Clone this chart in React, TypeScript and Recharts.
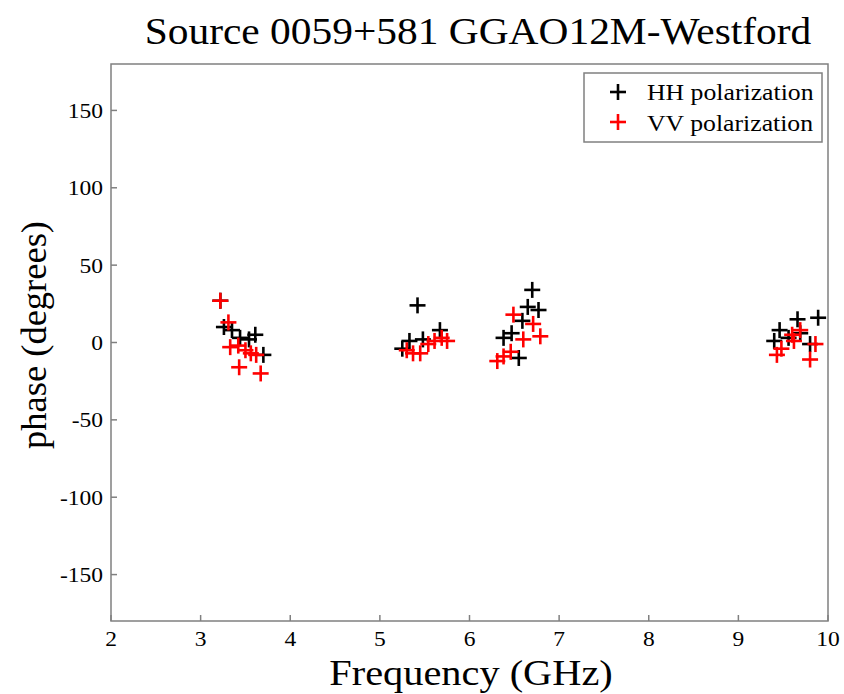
import React from "react";
import { ScatterChart, Scatter, XAxis, YAxis, ReferenceArea } from "recharts";

const hhPoints = [
  { f: 3.22, phase: 27 },
  { f: 3.26, phase: 10 },
  { f: 3.35, phase: 8 },
  { f: 3.44, phase: 3 },
  { f: 3.54, phase: 2 },
  { f: 3.61, phase: 5 },
  { f: 3.7, phase: -8 },
  { f: 5.25, phase: -4 },
  { f: 5.33, phase: 1 },
  { f: 5.42, phase: 24 },
  { f: 5.48, phase: 2 },
  { f: 5.67, phase: 8 },
  { f: 6.38, phase: 3 },
  { f: 6.47, phase: 6 },
  { f: 6.55, phase: -10 },
  { f: 6.59, phase: 14 },
  { f: 6.65, phase: 23 },
  { f: 6.7, phase: 34 },
  { f: 6.77, phase: 21 },
  { f: 9.4, phase: 1 },
  { f: 9.46, phase: 8 },
  { f: 9.56, phase: 3 },
  { f: 9.66, phase: 15 },
  { f: 9.69, phase: 6 },
  { f: 9.8, phase: -1 },
  { f: 9.89, phase: 16 },
];

const vvPoints = [
  { f: 3.22, phase: 27 },
  { f: 3.31, phase: 13 },
  { f: 3.33, phase: -3 },
  { f: 3.42, phase: -2 },
  { f: 3.5, phase: -5 },
  { f: 3.56, phase: -7 },
  { f: 3.62, phase: -8 },
  { f: 3.43, phase: -16 },
  { f: 3.67, phase: -20 },
  { f: 5.3, phase: -5 },
  { f: 5.37, phase: -7 },
  { f: 5.45, phase: -7 },
  { f: 5.54, phase: -1 },
  { f: 5.61, phase: 1 },
  { f: 5.69, phase: 3 },
  { f: 5.75, phase: 1 },
  { f: 6.31, phase: -12 },
  { f: 6.38, phase: -9 },
  { f: 6.46, phase: -6 },
  { f: 6.49, phase: 18 },
  { f: 6.6, phase: 2 },
  { f: 6.71, phase: 12 },
  { f: 6.79, phase: 4 },
  { f: 9.43, phase: -8 },
  { f: 9.48, phase: -4 },
  { f: 9.6, phase: 5 },
  { f: 9.62, phase: 1 },
  { f: 9.69, phase: 8 },
  { f: 9.8, phase: -11 },
  { f: 9.86, phase: -1 },
];

const xTicks = [2, 3, 4, 5, 6, 7, 8, 9, 10];
const yTicks = [-150, -100, -50, 0, 50, 100, 150];
const legendItems = [
  { label: "HH polarization", color: "#000" },
  { label: "VV polarization", color: "#ff0000" },
];

const serif = "'Times New Roman', 'Liberation Serif', Times, serif";
const frameColor = "#808080";
const stretch = 1.12;

function Plus(props: any) {
  const { cx, cy, fill } = props;
  if (cx == null || cy == null) return null;
  return (
    <g stroke={fill} strokeWidth={2.6}>
      <line x1={cx - 8} y1={cy} x2={cx + 8} y2={cy} />
      <line x1={cx} y1={cy - 8} x2={cx} y2={cy + 8} />
    </g>
  );
}

function XTick(props: any) {
  const { x, y, payload } = props;
  return (
    <g>
      <line x1={x} y1={y} x2={x} y2={y - 6} stroke={frameColor} strokeWidth={1.5} />
      <text
        transform={`translate(${x},${y + 25}) scale(${stretch},1)`}
        textAnchor="middle"
        style={{ fontFamily: serif, fontSize: 21 }}
        fill="#000"
      >
        {payload.value}
      </text>
    </g>
  );
}

function YTick(props: any) {
  const { x, y, payload } = props;
  return (
    <g>
      <line x1={x} y1={y} x2={x + 6} y2={y} stroke={frameColor} strokeWidth={1.5} />
      <text
        transform={`translate(${x - 8},${y + 7.5}) scale(${stretch},1)`}
        textAnchor="end"
        style={{ fontFamily: serif, fontSize: 21 }}
        fill="#000"
      >
        {payload.value}
      </text>
    </g>
  );
}

function Overlay() {
  return (
    <svg width={844} height={694} style={{ position: "absolute", left: 0, top: 0, pointerEvents: "none" }}>
      <text
        transform={`translate(478,44) scale(${stretch},1)`}
        textAnchor="middle"
        style={{ fontFamily: serif, fontSize: 37 }}
        fill="#000"
      >
        Source 0059+581 GGAO12M-Westford
      </text>
      <text
        transform={`translate(471,685) scale(${stretch * 1.03},1)`}
        textAnchor="middle"
        style={{ fontFamily: serif, fontSize: 35 }}
        fill="#000"
      >
        Frequency (GHz)
      </text>
      <text
        transform="translate(46,335) rotate(-90)"
        textAnchor="middle"
        style={{ fontFamily: serif, fontSize: 36.5 }}
        fill="#000"
      >
        phase (degrees)
      </text>
      <rect x={584} y={73} width={238} height={69} fill="#fff" stroke={frameColor} strokeWidth={1.5} />
      {legendItems.map((r, i) => (
        <g key={r.label}>
          <g stroke={r.color} strokeWidth={2.6}>
            <line x1={610} y1={92 + i * 30} x2={626} y2={92 + i * 30} />
            <line x1={618} y1={84 + i * 30} x2={618} y2={100 + i * 30} />
          </g>
          <text
            transform={`translate(647,${100 + i * 31}) scale(${stretch},1)`}
            style={{ fontFamily: serif, fontSize: 23 }}
            fill="#000"
          >
            {r.label}
          </text>
        </g>
      ))}
    </svg>
  );
}

export default function App() {
  return (
    <div style={{ position: "relative", width: 844, height: 694, background: "#fff", overflow: "hidden" }}>
      <style>{`body{margin:0}`}</style>
      <div style={{ position: "absolute", left: 0, top: 0 }}>
        <ScatterChart width={844} height={694} margin={{ top: 64, right: 16, bottom: 0, left: 0 }}>
          <XAxis
            xAxisId="b"
            dataKey="f"
            type="number"
            domain={[2, 10]}
            ticks={xTicks}
            height={73}
            axisLine={false}
            tickLine={false}
            tickSize={0}
            tickMargin={0}
            tick={<XTick />}
            interval={0}
            allowDataOverflow
          />
          <XAxis
            xAxisId="t"
            orientation="top"
            dataKey="f"
            type="number"
            domain={[2, 10]}
            ticks={xTicks}
            height={0}
            mirror
            axisLine={false}
            tickLine={{ stroke: frameColor, strokeWidth: 1.5 }}
            tickSize={6}
            tick={false}
            allowDataOverflow
          />
          <YAxis
            yAxisId="l"
            dataKey="phase"
            type="number"
            domain={[-180, 180]}
            ticks={yTicks}
            width={111}
            axisLine={false}
            tickLine={false}
            tickSize={0}
            tickMargin={0}
            tick={<YTick />}
            interval={0}
            allowDataOverflow
          />
          <YAxis
            yAxisId="r"
            orientation="right"
            dataKey="phase"
            type="number"
            domain={[-180, 180]}
            ticks={yTicks}
            width={0}
            mirror
            axisLine={false}
            tickLine={{ stroke: frameColor, strokeWidth: 1.5 }}
            tickSize={6}
            tick={false}
            allowDataOverflow
          />
          <ReferenceArea
            xAxisId="b"
            yAxisId="l"
            x1={2}
            x2={10}
            y1={-180}
            y2={180}
            fill="none"
            stroke={frameColor}
            strokeWidth={1.5}
            ifOverflow="visible"
          />
          <Scatter
            name="HH polarization"
            data={hhPoints}
            xAxisId="b"
            yAxisId="l"
            fill="#000"
            shape={<Plus />}
            isAnimationActive={false}
          />
          <Scatter
            name="VV polarization"
            data={vvPoints}
            xAxisId="b"
            yAxisId="l"
            fill="#ff0000"
            shape={<Plus />}
            isAnimationActive={false}
          />
        </ScatterChart>
      </div>
      <Overlay />
    </div>
  );
}
